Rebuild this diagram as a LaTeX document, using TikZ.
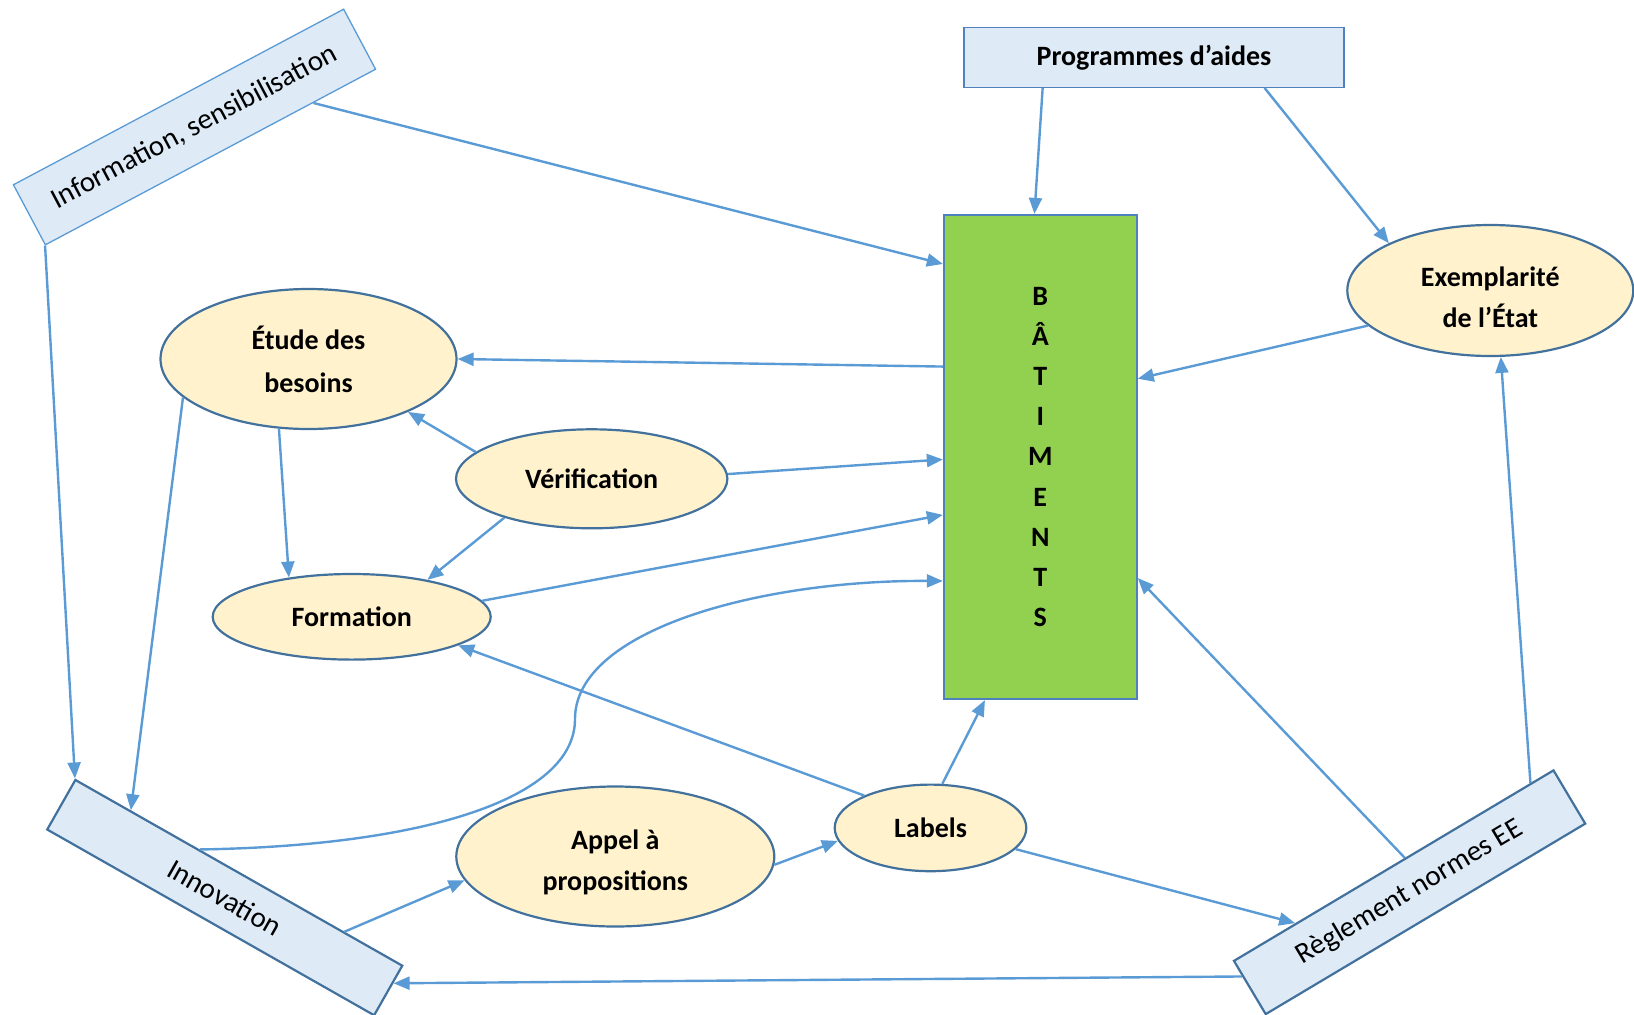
\documentclass[tikz,border=0pt]{standalone}
\usepackage{fontspec}
\setmainfont{Carlito}
\usetikzlibrary{shapes.geometric,arrows.meta,calc}
\definecolor{arrowblue}{HTML}{5B9BD5}
\definecolor{darkblue}{HTML}{41719C}
\definecolor{midblue}{HTML}{4F81BD}
\definecolor{boxfill}{HTML}{DEEBF7}
\definecolor{ellfill}{HTML}{FFF2CC}
\definecolor{batgreen}{HTML}{92D050}
\begin{document}
\begin{tikzpicture}[x=1pt,y=-1pt,
  lightbox/.style={draw=arrowblue,fill=boxfill,line width=1.3pt,inner sep=0pt,font=\fontsize{29}{35}\selectfont},
  darkbox/.style={draw=darkblue,fill=boxfill,line width=2.2pt,inner sep=0pt,font=\fontsize{29}{35}\selectfont},
  oval/.style={ellipse,draw=darkblue,fill=ellfill,line width=2.2pt,inner sep=0pt,align=center,font=\bfseries\fontsize{28}{43}\selectfont},
  ovaltext/.style={align=center,inner sep=0pt,font=\bfseries\fontsize{28}{41}\selectfont},
  arr/.style={draw=arrowblue,line width=2.4pt,-{Triangle[length=16pt,width=13pt]}}]

\useasboundingbox (0,0) rectangle (1634,1015);

% boxes
\node[lightbox,rotate=28,minimum width=374pt,minimum height=68pt] (info) at (194.5,127) {Information, sensibilisation};
\node[lightbox,draw=midblue,minimum width=380pt,minimum height=60pt,font=\bfseries\fontsize{28}{34}\selectfont] (prog) at (1154,57.3) {Programmes d’aides};
\node[draw=midblue,fill=batgreen,line width=2.2pt,inner sep=0pt,minimum width=192.7pt,minimum height=484pt,align=center,font=\bfseries\fontsize{28}{40.2}\selectfont] (bat) at (1040.3,457) {B\\Â\\T\\I\\M\\E\\N\\T\\S};
\node[darkbox,rotate=-29.6,minimum width=376pt,minimum height=57pt] (innov) at (224.75,897.6) {Innovation};
\node[darkbox,rotate=30.8,minimum width=372pt,minimum height=62pt] (regl) at (1409.6,892.25) {Règlement normes EE};

% ellipses
\node[oval,minimum width=296pt,minimum height=140pt] (etude) at (308.5,359) {Étude des\\besoins};
\node[oval,minimum width=271.4pt,minimum height=99pt] (verif) at (591.7,478.8) {Vérification};
\node[oval,minimum width=278pt,minimum height=85.6pt] (form) at (351.7,616.8) {Formation};
\node[oval,minimum width=286pt,minimum height=131pt] (exem) at (1490.3,290.5) {};
\node[ovaltext] (exemtxt) at ($(exem.center)+(0,7)$) {Exemplarité\\de l’État};
\node[oval,minimum width=318pt,minimum height=140pt] (appel) at (615.3,856.5) {};
\node[ovaltext] (appeltxt) at ($(appel.center)+(0,6)$) {Appel à\\propositions};
\node[oval,minimum width=191.6pt,minimum height=86.6pt] (labels) at (930.5,827.9) {Labels};

% connectors
\draw[arr] ($(info.south west)!0.81!(info.south east)$) -- ($(bat.north west)!0.103!(bat.south west)$);
\draw[arr] (info.south west) -- (innov.north west);
\draw[arr] ($(prog.south west)!0.208!(prog.south east)$) -- ($(bat.north west)!0.47!(bat.north east)$);
\draw[arr] ($(prog.south west)!0.79!(prog.south east)$) -- (exem.155);
\draw[arr] (exem.-164.8) -- ($(bat.north east)!0.339!(bat.south east)$);
\draw[arr] ($(bat.north west)!0.314!(bat.south west)$) -- (etude.east);
\draw[arr] (verif.167.8) -- (etude.-28);
\draw[arr] (verif.2) -- ($(bat.north west)!0.505!(bat.south west)$);
\draw[arr] (verif.-156.4) -- (form.26);
\draw[arr] (etude.-113) -- (form.148);
\draw[arr] (etude.-163) -- ($(innov.north west)!0.17!(innov.north east)$);
\draw[arr] (form.7.1) -- ($(bat.north west)!0.619!(bat.south west)$);
\draw[arr] ($(innov.north west)!0.38!(innov.north east)$) .. controls (420,846) and (575,800) .. (575,719)
  .. controls (575,630) and (760,580) .. ($(bat.north west)!0.755!(bat.south west)$);
\draw[arr] (labels.154.5) -- (form.-15.7);
\draw[arr] (labels.75.3) -- ($(bat.south west)!0.216!(bat.south east)$);
\draw[arr] (labels.-14.5) -- ($(regl.north west)!0.195!(regl.north east)$);
\draw[arr] (appel.-3) -- (labels.-172.7);
\draw[arr] ($(innov.north west)!0.82!(innov.north east)$) -- (appel.-171.9);
\draw[arr] ($(regl.north west)!0.29!(regl.south west)$) -- ($(innov.north east)!0.35!(innov.south east)$);
\draw[arr] ($(regl.north west)!0.536!(regl.north east)$) -- ($(bat.north east)!0.749!(bat.south east)$);
\draw[arr] ($(regl.north west)!0.927!(regl.north east)$) -- (exem.-81);
\end{tikzpicture}
\end{document}
